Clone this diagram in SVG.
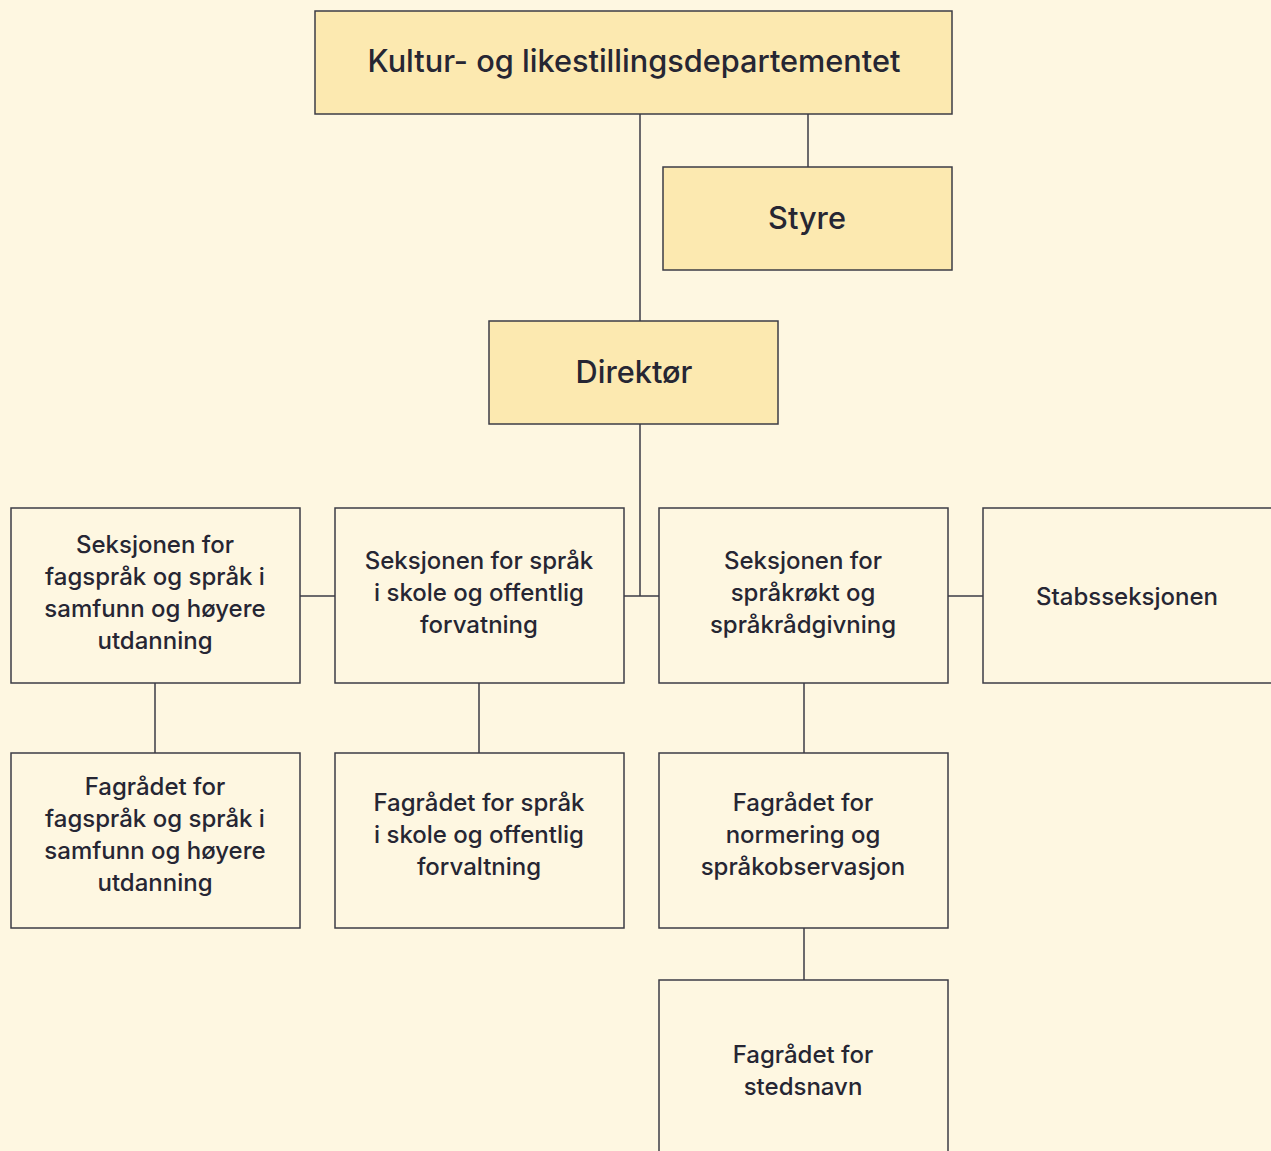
<svg xmlns="http://www.w3.org/2000/svg" width="1271" height="1151" viewBox="0 0 1271 1151">
<style>
.bg{fill:#FEF7E1}
.box{fill:#FEF7E1;stroke:#3d3d45;stroke-width:1.5}
.hl{fill:#FCE9B0;stroke:#3d3d45;stroke-width:1.5}
.t{font-family:Inter,"Noto Sans",sans-serif;font-size:24px;font-weight:500;fill:#262633;text-anchor:middle}
.tl{font-family:Inter,"Noto Sans",sans-serif;font-size:30.7px;font-weight:500;fill:#262633;text-anchor:middle}
.c{stroke:#3d3d45;stroke-width:1.5;fill:none}
</style>
<rect class="bg" x="0" y="0" width="1271" height="1151"/>
<g id="connectors">
<path class="c" d="M640 114V321M808 114V167M640 424V596M624 596H659M300 596H335M948 596H983M155 683V753M479 683V753M804 683V753M804 928V980"/>
</g>
<g id="kld"><rect class="hl" x="315" y="11" width="637" height="103"/><text class="tl" x="634" y="72">Kultur- og likestillingsdepartementet</text></g>
<g id="styre"><rect class="hl" x="663" y="167" width="289" height="103"/><text class="tl" x="807" y="229">Styre</text></g>
<g id="direktor"><rect class="hl" x="489" y="321" width="289" height="103"/><text class="tl" x="634" y="383">Direktør</text></g>
<g id="sek1"><rect class="box" x="11" y="508" width="289" height="175"/><text class="t" x="155"><tspan x="155" y="553">Seksjonen for</tspan><tspan x="155" y="585">fagspråk og språk i</tspan><tspan x="155" y="617">samfunn og høyere</tspan><tspan x="155" y="649">utdanning</tspan></text></g>
<g id="sek2"><rect class="box" x="335" y="508" width="289" height="175"/><text class="t" x="479"><tspan x="479" y="569">Seksjonen for språk</tspan><tspan x="479" y="601">i skole og offentlig</tspan><tspan x="479" y="633">forvatning</tspan></text></g>
<g id="sek3"><rect class="box" x="659" y="508" width="289" height="175"/><text class="t" x="803"><tspan x="803" y="569">Seksjonen for</tspan><tspan x="803" y="601">språkrøkt og</tspan><tspan x="803" y="633">språkrådgivning</tspan></text></g>
<g id="stab"><rect class="box" x="983" y="508" width="300" height="175"/><text class="t" x="1127" y="605">Stabsseksjonen</text></g>
<g id="fag1"><rect class="box" x="11" y="753" width="289" height="175"/><text class="t" x="155"><tspan x="155" y="795">Fagrådet for</tspan><tspan x="155" y="827">fagspråk og språk i</tspan><tspan x="155" y="859">samfunn og høyere</tspan><tspan x="155" y="891">utdanning</tspan></text></g>
<g id="fag2"><rect class="box" x="335" y="753" width="289" height="175"/><text class="t" x="479"><tspan x="479" y="811">Fagrådet for språk</tspan><tspan x="479" y="843">i skole og offentlig</tspan><tspan x="479" y="875">forvaltning</tspan></text></g>
<g id="fag3"><rect class="box" x="659" y="753" width="289" height="175"/><text class="t" x="803"><tspan x="803" y="811">Fagrådet for</tspan><tspan x="803" y="843">normering og</tspan><tspan x="803" y="875">språkobservasjon</tspan></text></g>
<g id="fag4"><rect class="box" x="659" y="980" width="289" height="190"/><text class="t" x="803"><tspan x="803" y="1063">Fagrådet for</tspan><tspan x="803" y="1095">stedsnavn</tspan></text></g>
</svg>
